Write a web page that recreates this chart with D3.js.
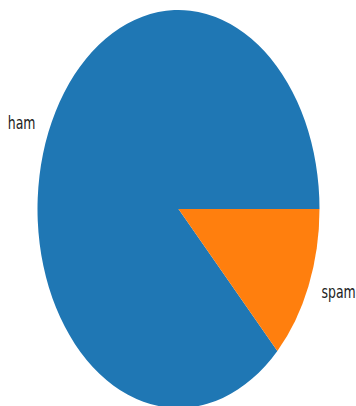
<!DOCTYPE html>
<html><head><meta charset="utf-8">
<script src="https://cdn.jsdelivr.net/npm/d3@7"></script>
<style>html,body{margin:0;padding:0;background:#fff;overflow:hidden}</style>
</head><body>
<svg id="chart" width="356" height="406"></svg>
<script>
const categories = ["ham", "spam"];
const counts = [4516, 653];
const colors = ["#1f77b4", "#ff7f0e"];

const W = 356, H = 406;
const cx = 178.5, cy = 209, rx = 141, ry = 199;
const sy = ry / rx;
const fontSize = 12.5;

const svg = d3.select("#chart");
const data = categories.map((c, i) => ({ label: c, value: counts[i] }));

const pie = d3.pie().value(d => d.value).sort(null)
  .startAngle(Math.PI / 2).endAngle(Math.PI / 2 - 2 * Math.PI);
const arcs = pie(data);
const color = d3.scaleOrdinal().domain(categories).range(colors);

const arc = d3.arc().innerRadius(0).outerRadius(rx);

const g = svg.append("g").attr("transform", `translate(${cx},${cy}) scale(1,${sy})`);
g.selectAll("path").data(arcs).join("path")
  .attr("d", arc)
  .attr("fill", d => color(d.data.label));

// labels at 1.1 × radius, vertically centred on the "lp" box like matplotlib
const baseOffset = 0.276 * fontSize * sy;
arcs.forEach(a => {
  const mid = (a.startAngle + a.endAngle) / 2;
  const x = cx + 1.1 * rx * Math.sin(mid);
  const y = cy - 1.1 * ry * Math.cos(mid) + baseOffset;
  svg.append("text")
    .attr("transform", `translate(${x},${y}) scale(1,${sy})`)
    .attr("text-anchor", Math.sin(mid) < 0 ? "end" : "start")
    .attr("font-family", "DejaVu Sans")
    .attr("font-size", fontSize)
    .attr("fill", "#222")
    .text(a.data.label);
});
</script>
</body></html>
